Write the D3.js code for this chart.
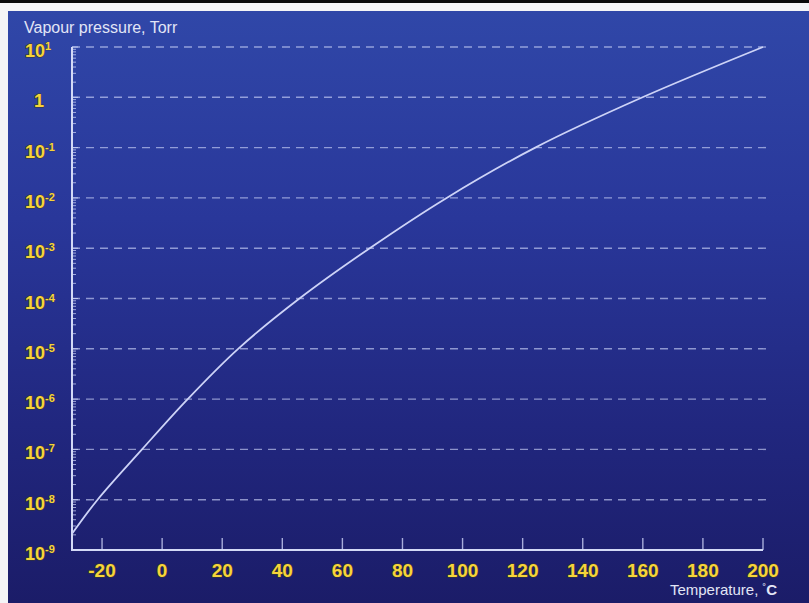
<!DOCTYPE html>
<html>
<head>
<meta charset="utf-8">
<script src="https://cdn.jsdelivr.net/npm/d3@7"></script>
<style>
  html, body { margin: 0; padding: 0; background: #ffffff; }
  svg { display: block; }
</style>
</head>
<body>
<div id="chart"></div>
<script>
// temperature (C) where the curve crosses each pressure decade
const temperatureC = [-30, -21.5, -6.7, 8.5, 25.3, 45.7, 69.1, 94.7, 124.2, 159.9, 200];
const pressureTorr = [2.1e-9, 1e-8, 1e-7, 1e-6, 1e-5, 1e-4, 1e-3, 1e-2, 1e-1, 1, 10];

const xTicks = [-20, 0, 20, 40, 60, 80, 100, 120, 140, 160, 180, 200];
const yExponents = [1, 0, -1, -2, -3, -4, -5, -6, -7, -8, -9];

const attrs = {
    svgWidth: 809,
    svgHeight: 603,
    plotLeft: 72,
    plotRight: 763,
    plotTop: 47,
    plotBottom: 550,
    yellow: "#f6d43a",
    lineColor: "#cdd3f7",
    font: "Liberation Sans, Arial, Helvetica, sans-serif"
};

const svg = d3.select("#chart")
    .append("svg")
    .attr("width", attrs.svgWidth)
    .attr("height", attrs.svgHeight)
    .attr("font-family", attrs.font);

// background gradient
const defs = svg.append("defs");
const grad = defs.append("linearGradient")
    .attr("id", "bg")
    .attr("x1", 0).attr("y1", 0)
    .attr("x2", 0).attr("y2", 1);
grad.append("stop").attr("offset", "0%").attr("stop-color", "#3047a8");
grad.append("stop").attr("offset", "35%").attr("stop-color", "#29379a");
grad.append("stop").attr("offset", "70%").attr("stop-color", "#21277f");
grad.append("stop").attr("offset", "100%").attr("stop-color", "#1b1c68");

// frame: black band, white band, white strip at left
svg.append("rect").attr("width", attrs.svgWidth).attr("height", attrs.svgHeight).attr("fill", "#f4f4f6");
svg.append("rect").attr("width", attrs.svgWidth).attr("height", 3).attr("fill", "#0a0a0a");
svg.append("rect")
    .attr("x", 8).attr("y", 11)
    .attr("width", attrs.svgWidth - 8)
    .attr("height", attrs.svgHeight - 11)
    .attr("fill", "url(#bg)");

const x = d3.scaleLinear()
    .domain([-30, 200])
    .range([attrs.plotLeft, attrs.plotRight]);

const y = d3.scaleLog()
    .domain([1e-9, 10])
    .range([attrs.plotBottom, attrs.plotTop]);

// dashed grid lines at each decade
svg.append("g")
    .selectAll("line")
    .data(yExponents.filter(e => e > -9))
    .join("line")
    .attr("x1", attrs.plotLeft)
    .attr("x2", attrs.plotRight + 3)
    .attr("y1", e => y(Math.pow(10, e)))
    .attr("y2", e => y(Math.pow(10, e)))
    .attr("stroke", "rgba(215,222,255,0.6)")
    .attr("stroke-width", 1.4)
    .attr("stroke-dasharray", "8,6");

// minor log ticks on y axis
const minor = [];
for (let e = -9; e < 1; e++) {
    for (let k = 1; k <= 9; k++) minor.push({ v: k * Math.pow(10, e), major: k === 1 });
}
minor.push({ v: 10, major: true });

svg.append("g")
    .selectAll("line")
    .data(minor)
    .join("line")
    .attr("x1", attrs.plotLeft)
    .attr("x2", d => attrs.plotLeft + (d.major ? 6 : 4))
    .attr("y1", d => y(d.v))
    .attr("y2", d => y(d.v))
    .attr("stroke", "rgba(215,222,255,0.7)")
    .attr("stroke-width", 1);

// axes lines
svg.append("line")
    .attr("x1", attrs.plotLeft).attr("x2", attrs.plotLeft)
    .attr("y1", attrs.plotTop).attr("y2", attrs.plotBottom)
    .attr("stroke", "#d3d9f6").attr("stroke-width", 2);

svg.append("line")
    .attr("x1", attrs.plotLeft - 1).attr("x2", attrs.plotRight)
    .attr("y1", attrs.plotBottom).attr("y2", attrs.plotBottom)
    .attr("stroke", "#d3d9f6").attr("stroke-width", 2);

// x ticks pointing up
svg.append("g")
    .selectAll("line")
    .data(xTicks)
    .join("line")
    .attr("x1", d => x(d)).attr("x2", d => x(d))
    .attr("y1", attrs.plotBottom).attr("y2", attrs.plotBottom - 12)
    .attr("stroke", "rgba(215,222,255,0.75)")
    .attr("stroke-width", 1.4);

// x tick labels
svg.append("g")
    .selectAll("text")
    .data(xTicks)
    .join("text")
    .attr("x", d => x(d))
    .attr("y", 577)
    .attr("text-anchor", "middle")
    .attr("font-size", 19)
    .attr("font-weight", "bold")
    .attr("fill", attrs.yellow)
    .attr("stroke", "#3a3a2a")
    .attr("stroke-width", 1.2)
    .attr("paint-order", "stroke")
    .text(d => d);

// y tick labels: 10 with superscript, plain 1
const yLabels = svg.append("g")
    .selectAll("text")
    .data(yExponents)
    .join("text")
    .attr("x", e => e === 0 ? 39 : 25)
    .attr("y", e => y(Math.pow(10, e)) + 10)
    .attr("text-anchor", e => e === 0 ? "middle" : "start")
    .attr("font-size", 18)
    .attr("font-weight", "bold")
    .attr("fill", attrs.yellow)
    .attr("stroke", "#3a3a2a")
    .attr("stroke-width", 1.1)
    .attr("paint-order", "stroke");

yLabels.append("tspan").text(e => e === 0 ? "1" : "10");
yLabels.filter(e => e !== 0)
    .append("tspan")
    .attr("dy", -7)
    .attr("font-size", 11)
    .attr("stroke-width", 0.6)
    .text(e => e === 1 ? "1" : "-" + Math.abs(e));

// vapour pressure curve
const points = temperatureC.map((t, i) => [t, pressureTorr[i]]);
const line = d3.line()
    .x(d => x(d[0]))
    .y(d => y(d[1]))
    .curve(d3.curveCatmullRom.alpha(0.5));

svg.append("path")
    .datum(points)
    .attr("d", line)
    .attr("fill", "none")
    .attr("stroke", attrs.lineColor)
    .attr("stroke-width", 1.8);

// axis titles
svg.append("text")
    .attr("x", 24)
    .attr("y", 33)
    .attr("font-size", 16)
    .attr("fill", "#e2e5f6")
    .text("Vapour pressure, Torr");

const xTitle = svg.append("text")
    .attr("x", 777)
    .attr("y", 595)
    .attr("text-anchor", "end")
    .attr("font-size", 15)
    .attr("fill", "#e2e5f6");
xTitle.append("tspan").text("Temperature, ");
xTitle.append("tspan").attr("dy", -3).attr("font-size", 11).text("˚");
xTitle.append("tspan").attr("dy", 3).attr("font-weight", "bold").text("C");
</script>
</body>
</html>
